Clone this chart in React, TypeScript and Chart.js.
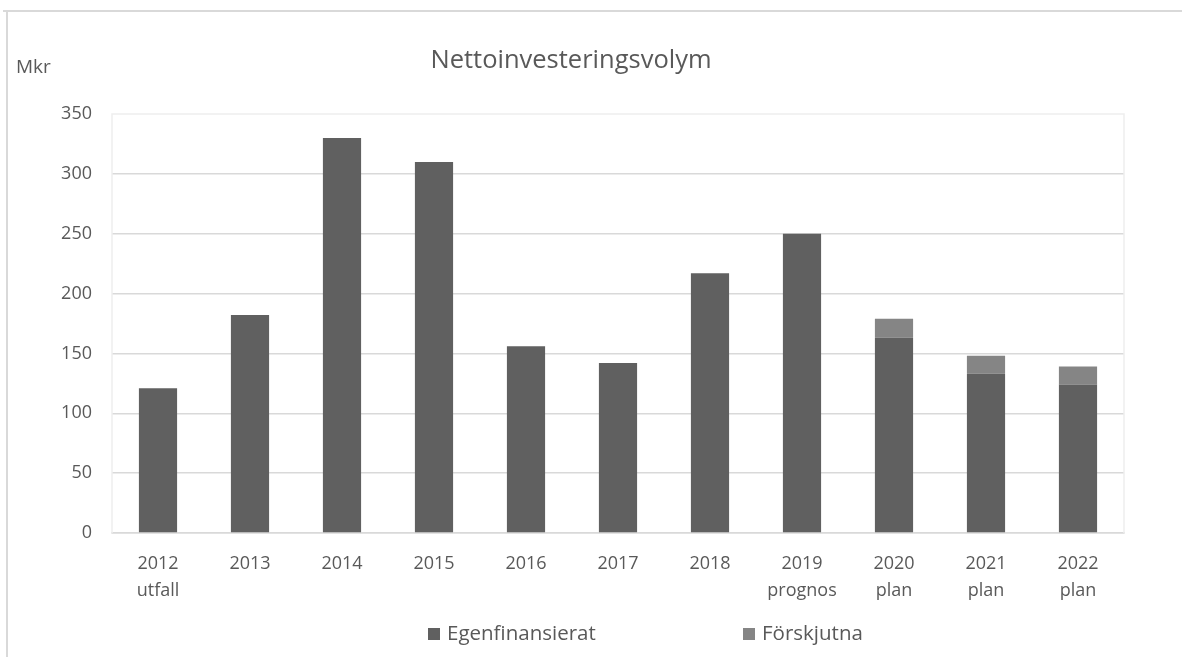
import React, { useEffect, useRef } from "react";
import { Chart, registerables } from "chart.js";

Chart.register(...registerables);

const years = ["2012", "2013", "2014", "2015", "2016", "2017", "2018", "2019", "2020", "2021", "2022"];
const subLabels = ["utfall", "", "", "", "", "", "", "prognos", "plan", "plan", "plan"];
const egenfinansierat = [121, 182, 330, 310, 156, 142, 217, 250, 163, 133, 124];
const forskjutna = [0, 0, 0, 0, 0, 0, 0, 0, 16, 15, 15];
const yTicks = [0, 50, 100, 150, 200, 250, 300, 350];

const titleText = "Nettoinvesteringsvolym";
const unitText = "Mkr";
const seriesNames = ["Egenfinansierat", "Förskjutna"];
const colors = ["#606060", "#858585"];
const textColor = "#595959";
const FONT = "'Open Sans', 'Noto Sans', sans-serif";

const decorPlugin = {
  id: "decor",
  afterDraw(chart: any) {
    const ctx = chart.ctx;
    const area = chart.chartArea;
    ctx.save();
    // outer frame
    ctx.strokeStyle = "#d9d9d9";
    ctx.lineWidth = 2;
    ctx.beginPath();
    ctx.moveTo(3, 11);
    ctx.lineTo(1182, 11);
    ctx.moveTo(7, 10);
    ctx.lineTo(7, 657);
    ctx.stroke();
    // plot area frame (left/top/right)
    ctx.strokeStyle = "#eeeeee";
    ctx.lineWidth = 1.5;
    ctx.beginPath();
    ctx.moveTo(area.left, area.bottom);
    ctx.lineTo(area.left, area.top);
    ctx.lineTo(area.right, area.top);
    ctx.lineTo(area.right, area.bottom);
    ctx.stroke();
    // title
    ctx.fillStyle = textColor;
    ctx.textBaseline = "middle";
    ctx.textAlign = "center";
    ctx.font = `25.5px ${FONT}`;
    ctx.fillText(titleText, 571, 61);
    ctx.textAlign = "left";
    ctx.font = `19px ${FONT}`;
    ctx.fillText(unitText, 16, 68);
    // legend
    const lx = [428, 743];
    ctx.font = `20.5px ${FONT}`;
    seriesNames.forEach((name, i) => {
      ctx.fillStyle = colors[i];
      ctx.fillRect(lx[i], 628, 12, 12);
      ctx.fillStyle = textColor;
      ctx.fillText(name, lx[i] + 19, 634);
    });
    ctx.restore();
  },
};

export default function App() {
  const ref = useRef<HTMLCanvasElement | null>(null);
  useEffect(() => {
    if (!ref.current) return;
    const labels = years.map((y, i) => (subLabels[i] ? [y, subLabels[i]] : [y]));
    const chart = new Chart(ref.current, {
      type: "bar",
      data: {
        labels,
        datasets: [
          {
            label: seriesNames[0],
            data: egenfinansierat,
            backgroundColor: colors[0],
            barPercentage: 0.5,
            categoryPercentage: 0.83,
          },
          {
            label: seriesNames[1],
            data: forskjutna,
            backgroundColor: colors[1],
            barPercentage: 0.5,
            categoryPercentage: 0.83,
          },
        ],
      },
      options: {
        animation: false,
        responsive: false,
        devicePixelRatio: 1,
        layout: { padding: { top: 114, right: 58, bottom: 0, left: 0 } },
        plugins: {
          legend: { display: false },
          title: { display: false },
          tooltip: { enabled: false },
        },
        scales: {
          x: {
            stacked: true,
            grid: { display: false, drawTicks: false },
            border: { display: true, color: "#d9d9d9", width: 1.5 },
            ticks: {
              color: textColor,
              font: { family: FONT, size: 18, lineHeight: 1.5 },
              padding: 17,
              maxRotation: 0,
              autoSkip: false,
            },
            afterFit(scale: any) {
              scale.height = 124;
            },
          },
          y: {
            stacked: true,
            min: 0,
            max: 350,
            afterBuildTicks(scale: any) {
              scale.ticks = yTicks.map((v) => ({ value: v }));
            },
            grid: {
              drawTicks: false,
              color: (c: any) => (c.tick && c.tick.value === 350 ? "rgba(0,0,0,0)" : "#d9d9d9"),
              lineWidth: 1.5,
            },
            border: { display: false },
            ticks: {
              color: textColor,
              font: { family: FONT, size: 18 },
              padding: 20,
            },
            afterFit(scale: any) {
              scale.width = 112;
            },
          },
        },
      },
      plugins: [decorPlugin],
    });
    return () => chart.destroy();
  }, []);
  return (
    <div style={{ position: "fixed", left: 0, top: 0, width: 1182, height: 657, background: "#fff" }}>
      <canvas ref={ref} width={1182} height={657} style={{ display: "block" }} />
    </div>
  );
}
